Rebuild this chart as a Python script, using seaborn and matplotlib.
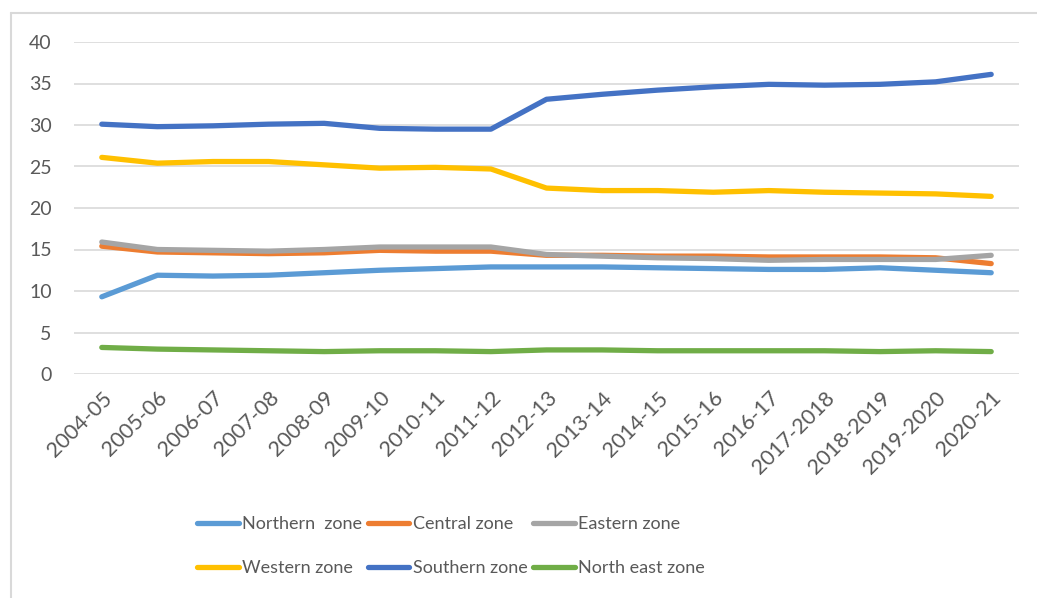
import numpy as np
import pandas as pd
import matplotlib
matplotlib.use("Agg")
import matplotlib.pyplot as plt
import seaborn as sns
from matplotlib.lines import Line2D

# datos
years = ["2004-05", "2005-06", "2006-07", "2007-08", "2008-09", "2009-10",
         "2010-11", "2011-12", "2012-13", "2013-14", "2014-15", "2015-16",
         "2016-17", "2017-2018", "2018-2019", "2019-2020", "2020-21"]
northern = [9.3, 11.9, 11.8, 11.9, 12.2, 12.5, 12.7, 12.9, 12.9, 12.9, 12.8, 12.7, 12.6, 12.6, 12.8, 12.5, 12.2]
central = [15.4, 14.7, 14.6, 14.5, 14.6, 14.9, 14.8, 14.8, 14.3, 14.3, 14.2, 14.2, 14.1, 14.1, 14.1, 14.0, 13.3]
eastern = [15.9, 15.0, 14.9, 14.8, 15.0, 15.3, 15.3, 15.3, 14.4, 14.2, 14.0, 13.9, 13.7, 13.8, 13.8, 13.8, 14.3]
western = [26.1, 25.4, 25.6, 25.6, 25.2, 24.8, 24.9, 24.7, 22.4, 22.1, 22.1, 21.9, 22.1, 21.9, 21.8, 21.7, 21.4]
southern = [30.1, 29.8, 29.9, 30.1, 30.2, 29.6, 29.5, 29.5, 33.1, 33.7, 34.2, 34.6, 34.9, 34.8, 34.9, 35.2, 36.1]
north_east = [3.2, 3.0, 2.9, 2.8, 2.7, 2.8, 2.8, 2.7, 2.9, 2.9, 2.8, 2.8, 2.8, 2.8, 2.7, 2.8, 2.7]

zones = ["Northern  zone", "Central zone", "Eastern zone",
         "Western zone", "Southern zone", "North east zone"]
series = [northern, central, eastern, western, southern, north_east]
colores = ["#5B9BD5", "#ED7D31", "#A5A5A5", "#FFC000", "#4472C4", "#70AD47"]

df = pd.DataFrame({
    "year": years * len(zones),
    "x": list(range(len(years))) * len(zones),
    "zone": np.repeat(zones, len(years)),
    "value": np.concatenate(series),
})

sns.set_style("white")
plt.rcParams["font.family"] = ["Lato", "DejaVu Sans"]
texto = "#595959"

fig = plt.figure(figsize=(10.37, 5.98), dpi=100)
ax = fig.add_axes([74 / 1037, 1 - 374 / 598, (1019 - 74) / 1037, (374 - 42) / 598])

sns.lineplot(data=df, x="x", y="value", hue="zone", hue_order=zones,
             palette=colores, linewidth=3.8, ax=ax, legend=False,
             solid_capstyle="round")

ax.set_xlim(-0.5, len(years) - 0.5)
ax.set_ylim(0, 40)
ax.set_yticks(range(0, 41, 5))
ax.set_xticks(range(len(years)))
ax.set_xticklabels(years, rotation=45, ha="right", rotation_mode="anchor",
                   fontsize=15.5, color=texto)
ax.tick_params(axis="y", labelsize=14, labelcolor=texto, length=0, pad=16)
ax.tick_params(axis="x", length=0, pad=10)
ax.grid(axis="y", color="#d9d9d9", linewidth=1.2)
ax.set_axisbelow(True)
for s in ax.spines.values():
    s.set_visible(False)
ax.set_xlabel("")
ax.set_ylabel("")

# leyenda abajo, 2 filas x 3 columnas (matplotlib llena por columna)
handles = [Line2D([0], [0], color=c, lw=3.8, solid_capstyle="round") for c in colores]
orden = [0, 3, 1, 4, 2, 5]
fig.legend([handles[i] for i in orden], [zones[i] for i in orden],
           ncol=3, frameon=False, fontsize=13, labelcolor=texto,
           handlelength=2.3, handletextpad=0.2, columnspacing=0.3,
           labelspacing=1.55, loc="center", bbox_to_anchor=(0.435, 1 - 546 / 598))

# borde del grafico
fig.add_artist(Line2D([11 / 1037, 11 / 1037], [0, 1 - 13 / 598], color="#d9d9d9", lw=1.5))
fig.add_artist(Line2D([11 / 1037, 1], [1 - 13 / 598, 1 - 13 / 598], color="#d9d9d9", lw=1.5))

fig.savefig("out.png", dpi=100)
